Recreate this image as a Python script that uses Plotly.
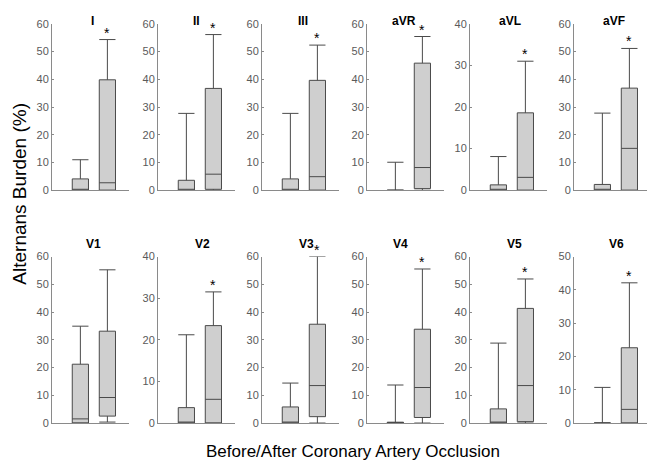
import plotly.graph_objects as go
from plotly.subplots import make_subplots

# leads, in reading order (row 1 then row 2)
leads = ["I", "II", "III", "aVR", "aVL", "aVF",
         "V1", "V2", "V3", "V4", "V5", "V6"]
y_max = [60, 60, 60, 60, 40, 60,
         60, 40, 60, 60, 60, 50]

# box statistics, before occlusion
pre_q1 = [0, 0, 0, 0, 0, 0, 0, 0, 0, 0, 0, 0]
pre_med = [0, 0, 0, 0, 0, 0, 1.5, 0.2, 0, 0.2, 0, 0]
pre_q3 = [4.1, 3.6, 4.1, 0, 1.3, 2.1, 21.2, 3.7, 5.8, 0.3, 5.1, 0]
pre_hi = [11.0, 27.7, 27.7, 10.1, 8.1, 27.8, 34.9, 21.2, 14.4, 13.7, 28.8, 10.7]
pre_lo = [0, 0, 0, 0, 0, 0, 0, 0, 0, 0, 0, 0]

# box statistics, after occlusion
post_q1 = [0, 0.35, 0, 0.6, 0, 0, 2.5, 0, 2.3, 2.0, 0.5, 0]
post_med = [2.7, 5.8, 4.9, 8.2, 3.1, 15.1, 9.2, 5.7, 13.5, 12.8, 13.5, 4.1]
post_q3 = [39.8, 36.7, 39.6, 45.8, 18.6, 36.8, 33.1, 23.4, 35.6, 33.8, 41.3, 22.6]
post_hi = [54.3, 56.1, 52.3, 55.4, 31.0, 51.1, 55.2, 31.5, 60.0, 55.5, 51.9, 42.1]
post_lo = [0, 0, 0, 0, 0, 0, 0.35, 0, 0, 0, 0, 0]
significant = [True, True, True, True, True, True,
               False, True, True, True, True, True]

FONT = "Liberation Sans"
BOX_FILL = "#cfcfcf"
BOX_LINE = "#4a4a4a"
AXIS_GRAY = "#8a8a8a"
TICK_TEXT = "#5a5a5a"

# the page body has an 8px margin, so work in page pixels minus 8
OFF = 8
W, H = 655 - OFF, 468 - OFF
col_left = [52, 158, 262, 367, 470, 574]
panel_w = 77
row_top = [18, 257]
panel_h = 171
# page x of each panel title centre
title_x = [92.5, 196.5, 302.5, 404, 509.5, 614,
           93.5, 202, 306, 400, 514, 616]


def px(x):
    return (x - OFF) / W


def py(y):
    return 1 - (y - OFF) / H


fig = make_subplots(rows=2, cols=6)

for i, lead in enumerate(leads):
    r, c = i // 6 + 1, i % 6 + 1
    for x, q1, med, q3, lo, hi in [
        (1, pre_q1[i], pre_med[i], pre_q3[i], pre_lo[i], pre_hi[i]),
        (2, post_q1[i], post_med[i], post_q3[i], post_lo[i], post_hi[i]),
    ]:
        fig.add_trace(go.Box(
            x=[x], q1=[q1], median=[med], q3=[q3],
            lowerfence=[lo], upperfence=[hi],
            width=0.6, whiskerwidth=1,
            fillcolor=BOX_FILL,
            line=dict(color=BOX_LINE, width=1),
            boxpoints=False, showlegend=False, hoverinfo="skip",
        ), row=r, col=c)

    x0 = px(col_left[c - 1])
    x1 = px(col_left[c - 1] + panel_w)
    ytop = py(row_top[r - 1])
    ybot = py(row_top[r - 1] + panel_h)
    fig.update_xaxes(domain=[x0, x1], range=[-0.05, 2.8],
                     showticklabels=False, ticks="", showgrid=False,
                     zeroline=False, showline=True, linecolor=AXIS_GRAY,
                     linewidth=1, row=r, col=c)
    fig.update_yaxes(domain=[ybot, ytop], range=[0, y_max[i]], dtick=10,
                     ticks="inside", ticklen=2, tickcolor=AXIS_GRAY,
                     showgrid=False, zeroline=False, showline=True,
                     linecolor=AXIS_GRAY, linewidth=1,
                     tickfont=dict(family=FONT, size=11, color=TICK_TEXT),
                     row=r, col=c)

    # panel title (top row sits against the top edge of the figure)
    if r == 1:
        ty, tanchor, tshift = 1, "top", 2
    else:
        ty, tanchor, tshift = ytop, "bottom", 4
    fig.add_annotation(text="<b>%s</b>" % lead, xref="paper", yref="paper",
                       x=px(title_x[i]), y=ty, xanchor="center",
                       yanchor=tanchor, yshift=tshift, showarrow=False,
                       font=dict(family=FONT, size=12, color="black"))

    # significance mark just above the post-occlusion whisker cap
    if significant[i]:
        axn = "" if i == 0 else str(i + 1)
        fig.add_annotation(text="*", xref="x" + axn, yref="y" + axn,
                           x=2, y=post_hi[i], xanchor="center",
                           yanchor="middle", yshift=7, showarrow=False,
                           font=dict(family=FONT, size=14, color="black"))

fig.add_annotation(text="Alternans Burden (%)", xref="paper", yref="paper",
                   x=px(19.5), y=py(193), xanchor="center", yanchor="middle",
                   textangle=-90, showarrow=False,
                   font=dict(family=FONT, size=19, color="black"))
fig.add_annotation(text="Before/After Coronary Artery Occlusion",
                   xref="paper", yref="paper", x=px(353.5), y=py(457),
                   xanchor="center", yanchor="middle", showarrow=False,
                   font=dict(family=FONT, size=17, color="black"))

fig.update_layout(width=W, height=H, margin=dict(l=0, r=0, t=0, b=0),
                  paper_bgcolor="white", plot_bgcolor="white",
                  boxmode="overlay")

fig.write_html("out.html")
